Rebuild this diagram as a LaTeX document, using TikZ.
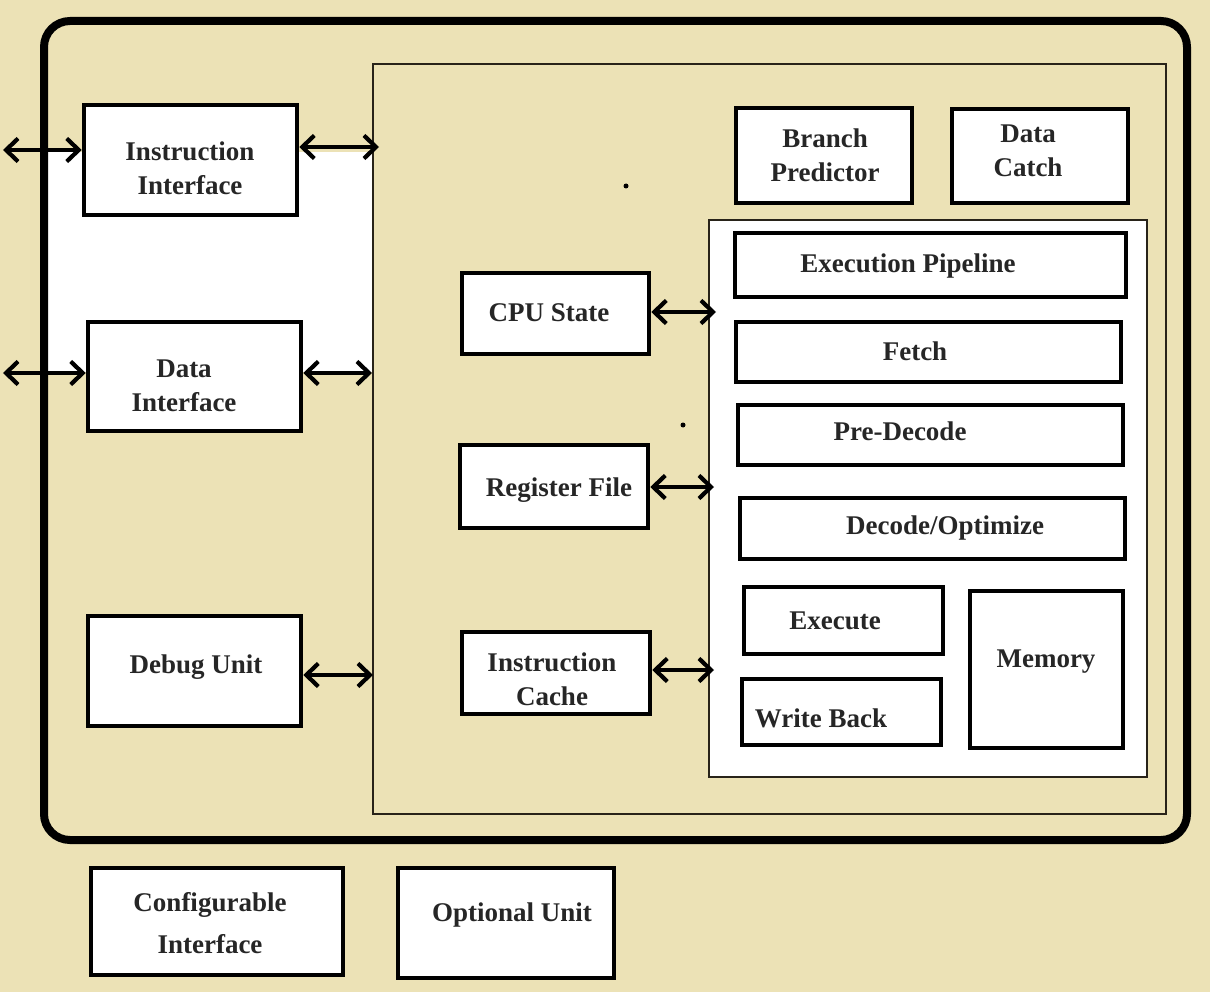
\documentclass[tikz,border=0pt]{standalone}
\usepackage{fontspec}
\setmainfont{Liberation Serif}
\usetikzlibrary{arrows.meta,fit}
\definecolor{bg}{RGB}{236,226,182}
\definecolor{thinline}{RGB}{40,35,25}
\begin{document}
\begin{tikzpicture}[x=1pt,y=-1pt,
  blk/.style={draw=black,line width=4.5pt,fill=white,inner sep=0pt},
  lbl/.style={font=\fontsize{27}{34}\selectfont\bfseries,align=center,inner sep=0pt,text=black!85},
  lblwide/.style={lbl,font=\fontsize{27}{42}\selectfont\bfseries},
  biarrow/.style={{Straight Barb[length=12pt,width=23pt]}-{Straight Barb[length=12pt,width=23pt]},line width=4.2pt},
  frame/.style={draw=black,line width=8pt,rounded corners=26pt},
  thinbox/.style={draw=thinline,line width=1.8pt,inner sep=0pt}
]
% background and bounding box
\fill[bg] (0,0) rectangle (1210,992);
\useasboundingbox (0,0) rectangle (1210,992);

% white patch in left column
\fill[white] (48,152) rectangle (372,372);

% outer frame
\node[frame,fit={(44,21) (1187,840)},inner sep=0pt] (outer) {};

% inner region
\node[thinbox,fit={(373,64) (1166,814)}] (inner) {};

% execution region
\node[thinbox,fill=white,fit={(709,220) (1147,777)}] (exreg) {};

% boxes
\node[blk,fit={(84,105) (297,215)}] (ii) {};
\node[blk,fit={(88,322) (301,431)}] (di) {};
\node[blk,fit={(88,616) (301,726)}] (du) {};
\node[blk,fit={(91,868) (343,975)}] (ci) {};
\node[blk,fit={(398,868) (614,978)}] (ou) {};
\node[blk,fit={(462,273) (649,354)}] (cpu) {};
\node[blk,fit={(460,445) (648,528)}] (rf) {};
\node[blk,fit={(462,632) (650,714)}] (ic) {};
\node[blk,fit={(736,108) (912,203)}] (bp) {};
\node[blk,fit={(952,109) (1128,203)}] (dc) {};
\node[blk,fit={(735,233) (1126,297)}] (ep) {};
\node[blk,fit={(736,322) (1121,382)}] (fe) {};
\node[blk,fit={(738,405) (1123,465)}] (pd) {};
\node[blk,fit={(740,498) (1125,559)}] (do) {};
\node[blk,fit={(744,587) (943,654)}] (ex) {};
\node[blk,fit={(742,679) (941,745)}] (wb) {};
\node[blk,fit={(970,591) (1123,748)}] (me) {};

% stray dots
\fill[black] (626,186) circle (2.5pt);
\fill[black] (683,425) circle (2.5pt);

% free ends of connectors
\coordinate (iiL) at (3,150);
\coordinate (iiR) at (379,147);
\coordinate (diL) at (3,373);
\coordinate (diR) at (372,373);
\coordinate (duR) at (373,675);
\coordinate (cpuR) at (716,312);
\coordinate (rfR) at (714,487);
\coordinate (icR) at (714,670);

% connectors
\draw[biarrow] (iiL) -- (iiL -| ii.west);
\draw[biarrow] (iiR -| ii.east) -- (iiR);
\draw[biarrow] (diL) -- (diL -| di.west);
\draw[biarrow] (diR -| di.east) -- (diR);
\draw[biarrow] (duR -| du.east) -- (duR);
\draw[biarrow] (cpuR -| cpu.east) -- (cpuR);
\draw[biarrow] (rfR -| rf.east) -- (rfR);
\draw[biarrow] (icR -| ic.east) -- (icR);

% labels
\node[lbl] (iit) at (190,168) {Instruction\\Interface};
\node[lbl] (dit) at (184,386) {Data\\Interface};
\node[lbl] (dut) at (196,667) {Debug Unit};
\node[lblwide] (cit) at (210,923) {Configurable\\Interface};
\node[lbl] (out) at (512,915) {Optional Unit};
\node[lbl] (cput) at (549,313) {CPU State};
\node[lbl] (rft) at (559,490) {Register File};
\node[lbl] (ict) at (552,679) {Instruction\\Cache};
\node[lbl] (bpt) at (825,155) {Branch\\Predictor};
\node[lbl] (dct) at (1028,151) {Data\\Catch};
\node[lbl] (ept) at (908,266) {Execution Pipeline};
\node[lbl] (fet) at (915,351) {Fetch};
\node[lbl] (pdt) at (900,431) {Pre-Decode};
\node[lbl] (dot) at (945,528) {Decode/Optimize};
\node[lbl] (ext) at (835,621) {Execute};
\node[lbl] (wbt) at (821,718) {Write Back};
\node[lbl] (met) at (1046,662) {Memory};
\end{tikzpicture}
\end{document}
